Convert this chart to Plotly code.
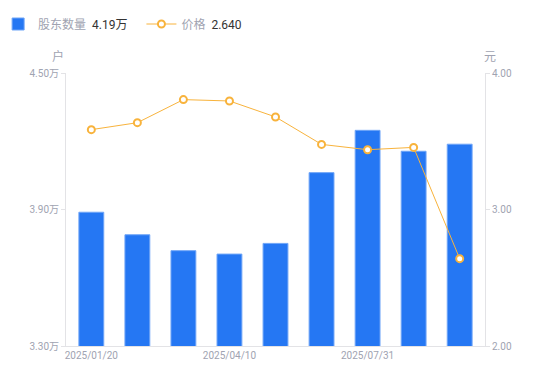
import plotly.graph_objects as go

dates = ["2025/01/20", "2025/02/28", "2025/03/20", "2025/04/10", "2025/06/10",
         "2025/06/30", "2025/07/31", "2025/08/29", "2025/09/30"]
holders = [3.888, 3.789, 3.719, 3.704, 3.751, 4.062, 4.248, 4.156, 4.187]  # 万户
price = [3.585, 3.636, 3.805, 3.795, 3.678, 3.477, 3.438, 3.455, 2.640]

left_ticks = [3.30, 3.90, 4.50]
left_text = ["3.30万", "3.90万", "4.50万"]
right_ticks = [2.00, 3.00, 4.00]
right_text = ["2.00", "3.00", "4.00"]
x_shown = [dates[0], dates[3], dates[6]]

blue = "#2577F3"
orange = "#F8B33C"
gray = "#A0A3B1"
dark = "#333333"
axis_col = "#E3E3E6"
fam = "Roboto, Noto Sans CJK SC, sans-serif"

fig = go.Figure()
fig.add_trace(go.Bar(
    x=dates, y=holders,
    name=f"<span style='color:{gray}'>股东数量</span>&nbsp; <span style='color:{dark}'>{holders[-1]:.2f}万</span>&nbsp;&nbsp;&nbsp;",
    marker=dict(color=blue, line=dict(color="#6FA5F7", width=1)),
    yaxis="y",
))
fig.add_trace(go.Scatter(
    x=dates, y=price, mode="lines+markers",
    name=f"<span style='color:{gray}'>价格</span>&nbsp; <span style='color:{dark}'>{price[-1]:.3f}</span>",
    line=dict(color=orange, width=1),
    marker=dict(size=7, color="white", line=dict(color=orange, width=2)),
    yaxis="y2",
))

fig.update_layout(
    width=550, height=381,
    margin=dict(l=58, r=73, t=65, b=43, autoexpand=False),
    paper_bgcolor="white", plot_bgcolor="white",
    font=dict(family=fam, size=10, color=gray),
    bargap=0.46,
    showlegend=True,
    legend=dict(orientation="h", xref="paper", yref="container",
                x=-0.162, xanchor="left", y=1 - 16 / 381, yanchor="middle",
                font=dict(size=12, color=gray, family=fam), itemwidth=30,
                traceorder="normal", bgcolor="rgba(0,0,0,0)"),
    xaxis=dict(type="category", tickmode="array", tickvals=x_shown, ticktext=x_shown,
               showline=True, linecolor=axis_col, linewidth=1, ticks="", showgrid=False,
               tickfont=dict(size=10, color=gray), zeroline=False, automargin=False),
    yaxis=dict(range=[3.30, 4.50], tickmode="array", tickvals=left_ticks, ticktext=left_text,
               showline=True, linecolor=axis_col, linewidth=1, ticks="outside", ticklen=4,
               tickcolor=axis_col, showgrid=False, zeroline=False, automargin=False,
               tickfont=dict(size=10, color=gray)),
    yaxis2=dict(range=[2.00, 4.00], overlaying="y", side="right", tickmode="array",
                tickvals=right_ticks, ticktext=right_text, automargin=False,
                showline=True, linecolor=axis_col, linewidth=1, ticks="outside", ticklen=4,
                tickcolor=axis_col, showgrid=False, zeroline=False,
                tickfont=dict(size=10, color=gray)),
    annotations=[
        dict(text="户", xref="paper", yref="paper", x=-0.018, y=1.025, showarrow=False,
             xanchor="center", yanchor="bottom", font=dict(size=12, color=gray)),
        dict(text="元", xref="paper", yref="paper", x=1.012, y=1.025, showarrow=False,
             xanchor="center", yanchor="bottom", font=dict(size=12, color=gray)),
    ],
)

fig.write_html("out.html")
